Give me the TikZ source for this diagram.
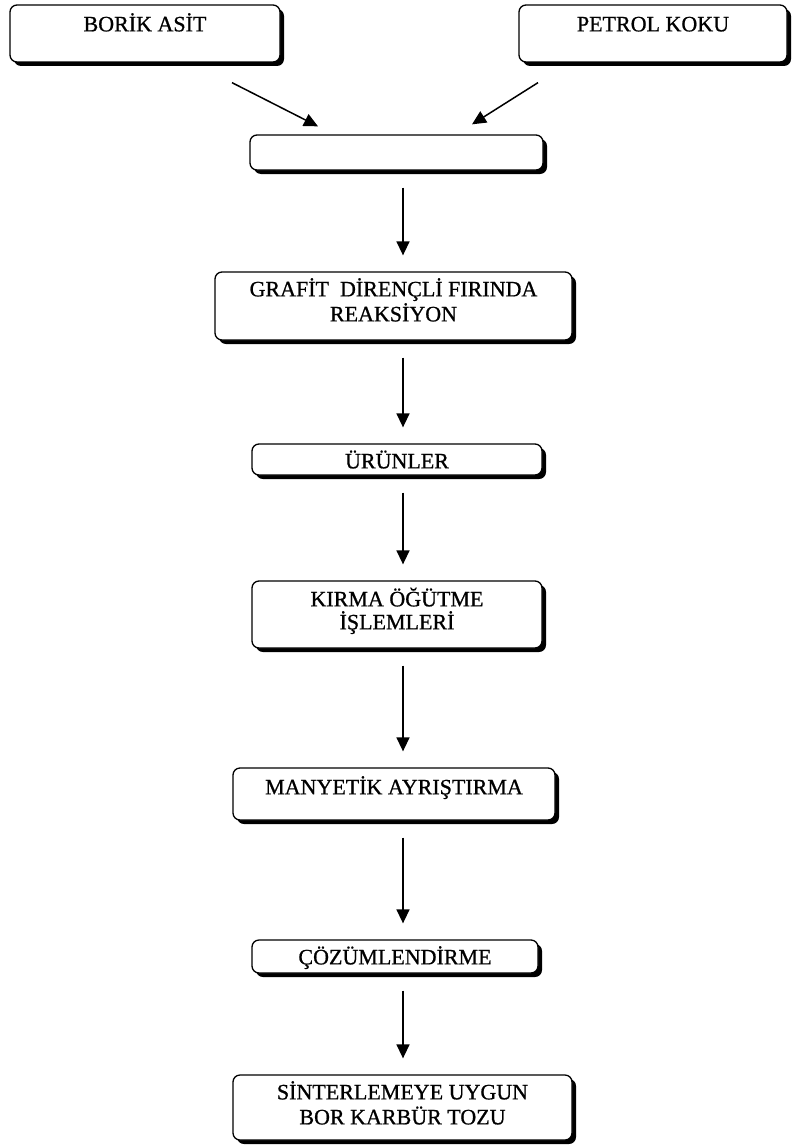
\documentclass[tikz,border=0pt]{standalone}
\usepackage{fontspec}
\setmainfont{Liberation Serif}[FakeBold=0.8]
\usepackage{tikz}
\usetikzlibrary{arrows.meta}
\usetikzlibrary{shadows}
\usetikzlibrary{calc}
\tikzset{stage/.style = {draw, line width=1.3pt, fill=white, rounded corners=7pt,
                         inner sep=0pt,
                         drop shadow={shadow xshift=4pt, shadow yshift=-4pt,
                                      fill=black, opacity=1}}}
\tikzset{caption/.style = {inner sep=0pt, anchor=base,
                           font=\fontsize{22pt}{26pt}\selectfont}}
\tikzset{flow/.style = {line width=1.5pt, -{Triangle[length=14pt, width=13pt]}}}
\tikzset{down/.style = {flow, shorten <=17pt, shorten >=16pt}}

\begin{document}
\begin{tikzpicture}[x=1pt, y=-1pt]
    \useasboundingbox (0, 0) rectangle (792, 1148);

    \node [stage, minimum width=270pt, minimum height=57pt] (borik) at (145, 33.5) {};
    \node [stage, minimum width=268pt, minimum height=57pt] (petrol) at (653, 33.5) {};
    \node [stage, minimum width=293pt, minimum height=35pt] (mix) at (396.5, 152.5) {};
    \node [stage, minimum width=357pt, minimum height=68pt] (grafit) at (393.5, 306) {};
    \node [stage, minimum width=290pt, minimum height=31pt] (urun) at (397, 459.5) {};
    \node [stage, minimum width=290pt, minimum height=67pt] (kirma) at (397, 614.5) {};
    \node [stage, minimum width=322pt, minimum height=52pt] (manyetik) at (394, 794) {};
    \node [stage, minimum width=286pt, minimum height=33pt] (cozum) at (395, 956.5) {};
    \node [stage, minimum width=339pt, minimum height=65pt] (sinter) at (402.5, 1107.5) {};

    % labels sit near the top edge of each box
    \node [caption] (borik-t) at ([yshift=-27pt]borik.north) {BORİK ASİT};
    \node [caption] (petrol-t) at ([yshift=-27pt]petrol.north) {PETROL KOKU};
    \node [caption] (grafit-a) at ([yshift=-25pt]grafit.north) {GRAFİT\ \ DİRENÇLİ FIRINDA};
    \node [caption] (grafit-b) at ([yshift=-50pt]grafit.north) {REAKSİYON};
    \node [caption] (urun-t) at ([yshift=-25pt]urun.north) {ÜRÜNLER};
    \node [caption] (kirma-a) at ([yshift=-26pt]kirma.north) {KIRMA ÖĞÜTME};
    \node [caption] (kirma-b) at ([yshift=-49pt]kirma.north) {İŞLEMLERİ};
    \node [caption] (manyetik-t) at ([yshift=-27pt]manyetik.north) {MANYETİK AYRIŞTIRMA};
    \node [caption] (cozum-t) at ([yshift=-25pt]cozum.north) {ÇÖZÜMLENDİRME};
    \node [caption] (sinter-a) at ([yshift=-25pt]sinter.north) {SİNTERLEMEYE UYGUN};
    \node [caption] (sinter-b) at ([yshift=-50pt]sinter.north) {BOR KARBÜR TOZU};

    \draw [flow] ([xshift=87pt, yshift=-20pt]borik.south) -- ([xshift=-78.5pt, yshift=8pt]mix.north);
    \draw [flow] ([xshift=-115pt, yshift=-20pt]petrol.south) -- ([xshift=75.5pt, yshift=10pt]mix.north);

    \coordinate (spine) at (403, 0);
    \draw [down] (mix.south -| spine) -- (grafit.north -| spine);
    \draw [down] (grafit.south -| spine) -- (urun.north -| spine);
    \draw [down] (urun.south -| spine) -- (kirma.north -| spine);
    \draw [down] (kirma.south -| spine) -- (manyetik.north -| spine);
    \draw [down] (manyetik.south -| spine) -- (cozum.north -| spine);
    \draw [down] (cozum.south -| spine) -- (sinter.north -| spine);
\end{tikzpicture}
\end{document}
